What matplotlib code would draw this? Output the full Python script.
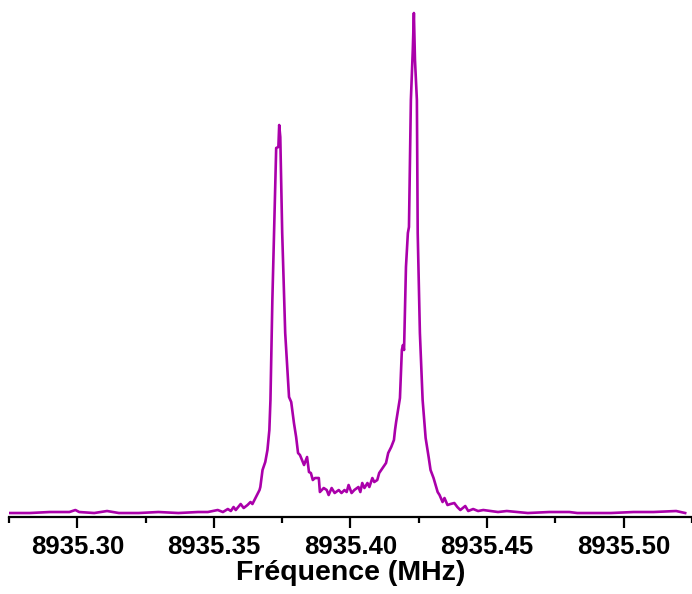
import numpy as np
import matplotlib.pyplot as plt

# frequency offsets above 8935 MHz and signal (arb. units)
freq_offset = [
    0.2754, 0.2826, 0.2899, 0.2971, 0.2993, 0.3007, 0.3062, 0.3109, 0.3152, 0.3225,
    0.3297, 0.3370, 0.3442, 0.3478, 0.3514, 0.3533, 0.3551, 0.3562, 0.3572, 0.3580,
    0.3598, 0.3609, 0.3623, 0.3634, 0.3641, 0.3652, 0.3667, 0.3670, 0.3678, 0.3688,
    0.3696, 0.3703, 0.3707, 0.3714, 0.3721, 0.3728, 0.3736, 0.3739, 0.3743, 0.3750,
    0.3761, 0.3775, 0.3783, 0.3793, 0.3801, 0.3808, 0.3815, 0.3830, 0.3841, 0.3848,
    0.3855, 0.3862, 0.3870, 0.3884, 0.3888, 0.3902, 0.3913, 0.3920, 0.3931, 0.3942,
    0.3957, 0.3967, 0.3978, 0.3986, 0.3993, 0.4004, 0.4014, 0.4029, 0.4036, 0.4043,
    0.4051, 0.4062, 0.4069, 0.4080, 0.4087, 0.4098, 0.4105, 0.4120, 0.4130, 0.4138,
    0.4149, 0.4159, 0.4163, 0.4167, 0.4174, 0.4181, 0.4188, 0.4192, 0.4196, 0.4203,
    0.4210, 0.4214, 0.4221, 0.4228, 0.4232, 0.4236, 0.4243, 0.4246, 0.4254, 0.4264,
    0.4275, 0.4286, 0.4293, 0.4304, 0.4319, 0.4326, 0.4337, 0.4344, 0.4355, 0.4366,
    0.4380, 0.4391, 0.4402, 0.4420, 0.4431, 0.4449, 0.4467, 0.4486, 0.4540, 0.4572,
    0.4649, 0.4728, 0.4801, 0.4830, 0.4891, 0.4953, 0.5036, 0.5109, 0.5192, 0.5225,
]
signal = [
    0, 0, 1, 1, 3, 1, 0, 2, 0, 0,
    1, 0, 1, 1, 3, 1, 4, 2, 6, 3,
    9, 5, 8, 11, 9, 15, 23, 26, 43, 51,
    63, 83, 113, 213, 290, 365, 366, 388, 376, 280,
    180, 116, 111, 90, 76, 60, 58, 48, 56, 41,
    40, 33, 35, 35, 21, 25, 23, 18, 25, 20,
    23, 20, 23, 21, 28, 20, 23, 26, 21, 30,
    25, 30, 26, 35, 31, 33, 40, 46, 50, 60,
    66, 73, 83, 91, 103, 115, 163, 168, 163, 246,
    280, 286, 413, 463, 500, 453, 413, 280, 180, 113,
    75, 56, 43, 35, 21, 18, 11, 15, 8, 9,
    10, 6, 3, 7, 2, 4, 2, 3, 1, 2,
    0, 1, 1, 0, 0, 0, 1, 1, 2, 0,
]
tick_values = [8935.30, 8935.35, 8935.40, 8935.45, 8935.50]
tick_labels = ["8935.30", "8935.35", "8935.40", "8935.45", "8935.50"]

plt.rcParams['font.family'] = ['Liberation Sans', 'DejaVu Sans']

fig = plt.figure(figsize=(6.92, 5.94), dpi=100)
ax = fig.add_axes([0.013, 0.1296, 0.987, 0.8704])

x = 8935 + np.array(freq_offset)
ax.plot(x, signal, color='#AA00AA', linewidth=1.9)

ax.set_xlim(8935.275, 8935.5225)
ax.set_ylim(-4, 513)

for side in ['top', 'right', 'left']:
    ax.spines[side].set_visible(False)
ax.spines['bottom'].set_linewidth(1.6)
ax.set_yticks([])

ax.set_xticks(tick_values)
ax.set_xticklabels(tick_labels, fontsize=18.5, fontweight='bold')
ax.set_xticks(np.arange(8935.275, 8935.53, 0.05), minor=True)
ax.tick_params(axis='x', which='major', direction='out', length=8, width=1.6, pad=5)
ax.tick_params(axis='x', which='minor', direction='out', length=4.5, width=1.6)
ax.set_xlabel("Fréquence (MHz)", fontsize=20.5, fontweight='bold', labelpad=1)

fig.savefig("out.png", dpi=100)
